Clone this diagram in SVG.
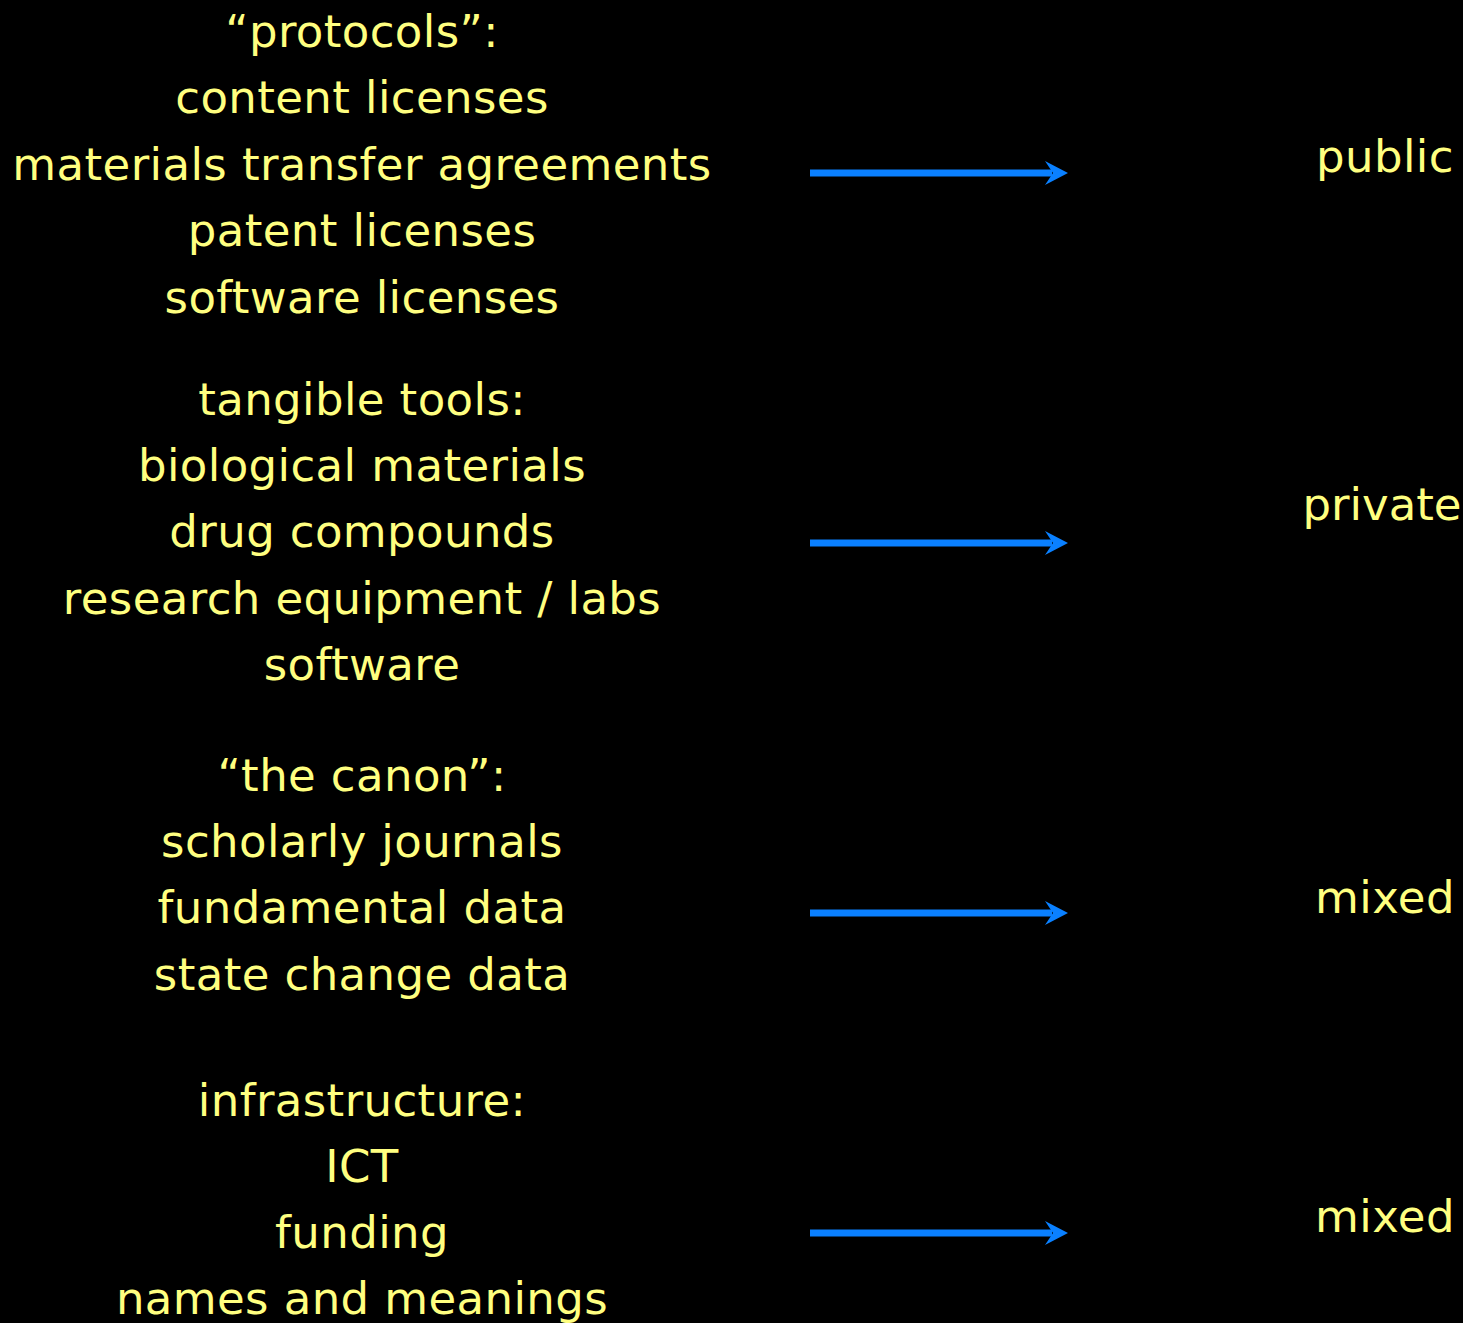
<svg xmlns="http://www.w3.org/2000/svg" width="1463" height="1323" viewBox="0 0 1463 1323">
  <style>
    .t { font-family: "DejaVu Sans", "Liberation Sans", sans-serif; font-size: 45px; letter-spacing: 0.4px; fill: #FFFF80; }
    .l { text-anchor: middle; }
    .r { text-anchor: middle; }
    .tight { letter-spacing: 0; }
    .arrow { stroke: #0A80FF; stroke-width: 7; fill: none; }
    .head { fill: #0A80FF; }
  </style>
  <defs>
    <path id="ahead" class="head" d="M -23 -12 L 0 0 L -23 12 L -15 0 Z"/>
  </defs>
  <rect width="1463" height="1323" fill="#000"/>

  <g id="node-protocols" class="t l">
    <text x="362" y="47">“protocols”:</text>
    <text x="362" y="113">content licenses</text>
    <text x="362" y="180">materials transfer agreements</text>
    <text x="362" y="246">patent licenses</text>
    <text x="362" y="313">software licenses</text>
  </g>
  <g id="node-tangible" class="t l">
    <text x="362" y="415">tangible tools:</text>
    <text x="362" y="481">biological materials</text>
    <text x="362" y="547">drug compounds</text>
    <text x="362" y="614">research equipment / labs</text>
    <text x="362" y="680">software</text>
  </g>
  <g id="node-canon" class="t l">
    <text x="362" y="791">“the canon”:</text>
    <text x="362" y="857">scholarly journals</text>
    <text x="362" y="923">fundamental data</text>
    <text x="362" y="990">state change data</text>
  </g>
  <g id="node-infrastructure" class="t l">
    <text x="362" y="1116">infrastructure:</text>
    <text x="362" y="1182">ICT</text>
    <text x="362" y="1248">funding</text>
    <text x="362" y="1314">names and meanings</text>
  </g>

  <g id="node-public" class="t r"><text x="1385" y="172">public</text></g>
  <g id="node-private" class="t r tight"><text x="1382" y="520">private</text></g>
  <g id="node-mixed-1" class="t r"><text x="1385" y="913">mixed</text></g>
  <g id="node-mixed-2" class="t r"><text x="1385" y="1232">mixed</text></g>

  <g id="connectors">
    <line class="arrow" x1="810" y1="173" x2="1052" y2="173"/>
    <use href="#ahead" x="1068" y="173"/>
    <line class="arrow" x1="810" y1="543" x2="1052" y2="543"/>
    <use href="#ahead" x="1068" y="543"/>
    <line class="arrow" x1="810" y1="913" x2="1052" y2="913"/>
    <use href="#ahead" x="1068" y="913"/>
    <line class="arrow" x1="810" y1="1233" x2="1052" y2="1233"/>
    <use href="#ahead" x="1068" y="1233"/>
  </g>
</svg>
